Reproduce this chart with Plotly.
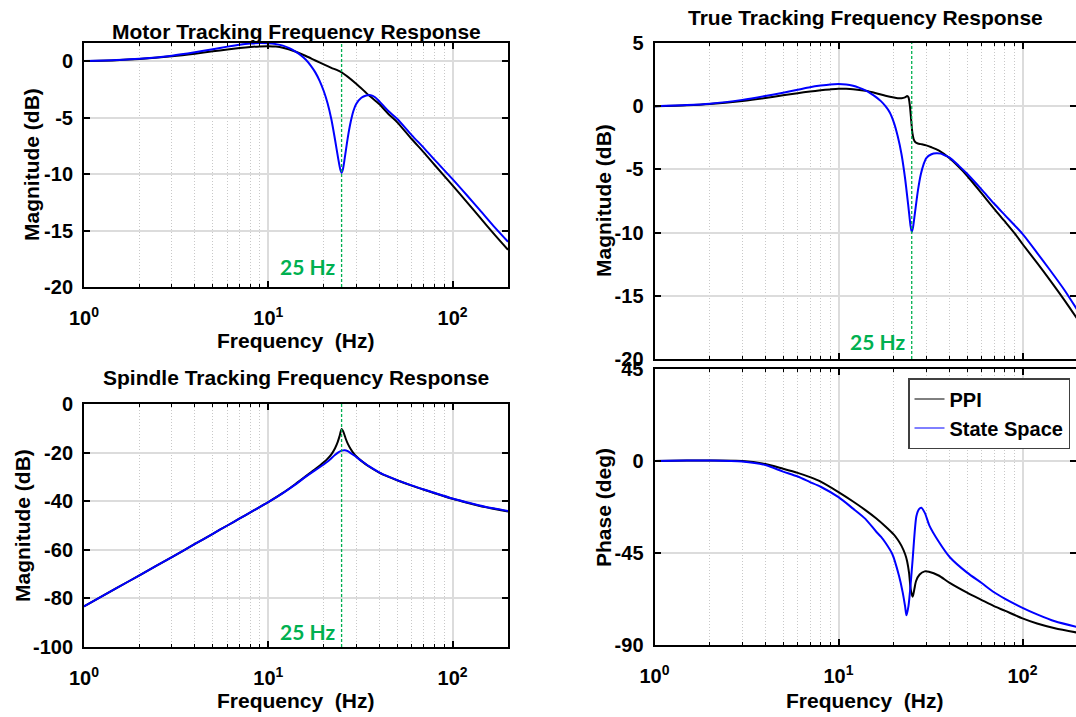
import math
import plotly.graph_objects as go

# ---------------- data ----------------
# Motor tracking magnitude (dB)
motor_f_ppi = [1, 1.5, 2, 3, 4, 5, 6, 7, 8, 9, 10, 11, 12, 14, 16, 18, 20, 22, 25, 30, 35, 40, 45, 50,
               60, 70, 80, 100, 120, 140, 170, 200]
motor_ppi = [0, 0.08, 0.18, 0.42, 0.65, 0.86, 1.03, 1.16, 1.25, 1.3, 1.32, 1.28, 1.18, 0.85, 0.45,
             0.05, -0.3, -0.6, -1.0, -2.0, -3.0, -3.8, -4.7, -5.4, -6.9, -8.1, -9.2, -11.0, -12.5,
             -13.8, -15.4, -16.7]
motor_f_ss = [1, 1.5, 2, 3, 4, 5, 6, 7, 8, 9, 10, 11, 12, 13, 14, 15, 16, 17, 18, 19, 20, 21, 22, 23,
              24, 24.6, 25, 25.4, 26, 27, 28, 29, 30, 32, 34, 36, 38, 40, 45, 50, 60, 70, 80, 100,
              120, 140, 170, 200]
motor_ss = [0, 0.09, 0.2, 0.48, 0.78, 1.05, 1.28, 1.45, 1.55, 1.6, 1.58, 1.5, 1.37, 1.15, 0.85,
            0.52, 0.12, -0.4, -1.0, -1.75, -2.65, -3.75, -5.15, -6.9, -8.7, -9.6, -9.9, -9.6, -8.6,
            -6.8, -5.4, -4.4, -3.8, -3.25, -3.05, -3.02, -3.2, -3.55, -4.45, -5.1, -6.55, -7.7,
            -8.75, -10.45, -11.9, -13.15, -14.75, -16.0]

# Spindle tracking magnitude (dB)
spindle_f_ppi = [1, 1.5, 2, 3, 4, 5, 6, 7, 8, 10, 12, 14, 16, 18, 20, 21, 22, 23, 23.8, 24.4, 25,
                 25.6, 26.3, 27, 28, 29, 30, 32, 35, 40, 45, 50, 60, 70, 80, 100, 120, 150, 200]
spindle_ppi = [-83.3, -75.8, -70.5, -63, -57.6, -53.4, -50, -47.1, -44.6, -40.4, -36.6, -33.0,
               -29.7, -26.8, -24.0, -22.5, -20.7, -18.3, -15.7, -13.1, -10.3, -11.6, -14.2, -16.3,
               -18.5, -20.2, -21.5, -23.4, -25.6, -28.2, -30.0, -31.4, -33.6, -35.3, -36.7, -39.0,
               -40.6, -42.4, -44.2]
spindle_f_ss = [1, 1.5, 2, 3, 4, 5, 6, 7, 8, 10, 12, 14, 16, 18, 20, 21, 22, 23, 24, 25, 26, 27, 28,
                29, 30, 32, 35, 40, 45, 50, 60, 70, 80, 100, 120, 150, 200]
spindle_ss = [-83.3, -75.8, -70.5, -63, -57.6, -53.4, -50, -47.1, -44.6, -40.4, -36.7, -33.2,
              -29.9, -27.2, -24.9, -23.7, -22.3, -21.0, -19.9, -19.2, -19.0, -19.4, -20.2, -21.0,
              -21.8, -23.4, -25.5, -28.1, -29.9, -31.3, -33.5, -35.2, -36.6, -38.9, -40.5, -42.3,
              -44.0]

# True tracking magnitude (dB)
true_f_ppi = [1, 1.5, 2, 3, 4, 5, 6, 7, 8, 9, 10, 11, 12, 14, 16, 18, 20, 21, 22, 23, 23.6, 24,
              24.4, 24.8, 25.2, 25.6, 26.2, 27, 28, 30, 32, 35, 40, 45, 50, 60, 70, 80, 90, 100,
              120, 140, 170, 200]
true_ppi = [0, 0.08, 0.18, 0.42, 0.65, 0.86, 1.03, 1.16, 1.26, 1.33, 1.38, 1.38, 1.35, 1.22, 1.03,
            0.83, 0.68, 0.63, 0.63, 0.7, 0.8, 0.7, 0.1, -1.0, -2.1, -2.6, -2.85, -2.95, -3.0, -3.1,
            -3.25, -3.5, -4.1, -4.8, -5.5, -6.9, -8.1, -9.1, -10.0, -10.9, -12.4, -13.7, -15.4,
            -16.9]
true_f_ss = [1, 1.5, 2, 3, 4, 5, 6, 7, 8, 9, 10, 11, 12, 13, 14, 15, 16, 17, 18, 19, 20, 21, 22,
             23, 24, 24.6, 25, 25.4, 26, 27, 28, 29, 30, 32, 34, 36, 38, 40, 45, 50, 60, 70, 80,
             100, 120, 140, 170, 200]
true_ss = [0, 0.09, 0.2, 0.5, 0.8, 1.07, 1.3, 1.5, 1.63, 1.72, 1.75, 1.72, 1.62, 1.45, 1.25, 1.0,
           0.72, 0.4, 0.0, -0.5, -1.3, -2.4, -3.8, -5.7, -8.0, -9.4, -9.95, -9.6, -8.5, -6.7,
           -5.4, -4.6, -4.1, -3.8, -3.72, -3.75, -3.9, -4.05, -4.7, -5.35, -6.6, -7.7, -8.6,
           -10.1, -11.6, -12.9, -14.6, -16.2]

# True tracking phase (deg)
phase_f_ppi = [1, 1.5, 2, 3, 4, 5, 6, 7, 8, 10, 12, 14, 16, 18, 20, 21, 22, 23, 23.6, 24.2, 24.7,
               25.3, 25.8, 26.4, 27.6, 29.4, 31, 35, 40, 50, 60, 70, 80, 100, 120, 150, 200]
phase_ppi = [0, 0.2, 0.2, 0, -1.5, -3.8, -5.8, -7.9, -10.1, -15.2, -19.8, -24, -28, -32, -36,
             -38.5, -41.5, -45.5, -49, -55, -63, -66.4, -63, -58.7, -55.5, -54, -54.2, -56, -59.5,
             -64.4, -68, -71, -73.2, -77, -79.5, -81.8, -84]
phase_f_ss = [1, 1.5, 2, 3, 4, 5, 6, 7, 8, 10, 12, 14, 16, 17, 18, 19.6, 21.3, 22.3, 23, 23.4, 24,
              24.7, 25.3, 26.5, 27.4, 28.2, 29.5, 31.2, 34.8, 40.4, 50, 60, 70, 80, 100, 120, 150,
              200]
phase_ss = [0, 0.2, 0.2, -0.3, -2, -5.2, -7.6, -10.3, -12.6, -17.7, -23.3, -28.3, -34.5, -37,
            -40, -45.5, -56, -64, -71, -75.5, -71, -59.5, -48, -27, -23.5, -22.9, -25.5, -31.6,
            -39, -47.2, -54.6, -59.7, -64.2, -67.3, -71.8, -75, -78.4, -81.3]

MARKER_FREQ = 25
MARKER_TEXT = "25 Hz"

x_tickvals = [1, 10, 100]
x_ticktext = ["10<sup>0</sup>", "10<sup>1</sup>", "10<sup>2</sup>"]
x_minorvals = [2, 3, 4, 5, 6, 7, 8, 9, 20, 30, 40, 50, 60, 70, 80, 90, 200]

motor_yticks = [0, -5, -10, -15, -20]
true_yticks = [5, 0, -5, -10, -15, -20]
spindle_yticks = [0, -20, -40, -60, -80, -100]
phase_yticks = [45, 0, -45, -90]

series_names = ["PPI", "State Space"]
series_colors = ["#000000", "#0000ff"]

# ---------------- layout helpers ----------------
W, H = 1076, 717
FONT = "Liberation Sans"
GREEN = "#00b050"


def fx(px):
    return px / W


def fy(py):
    return 1 - py / H


def ylabels(vals):
    return [str(v) for v in vals]


# panel boxes in pixels: (left, right, top, bottom)
boxes = {
    "tl": (84, 508, 43, 287),
    "bl": (84, 508, 404, 647),
    "tr": (654.5, 1076, 43, 359),
    "br": (654.5, 1076, 369, 645),
}

fig = go.Figure()

panels = [
    ("tl", "x", "y", motor_f_ppi, motor_ppi, motor_f_ss, motor_ss),
    ("bl", "x2", "y2", spindle_f_ppi, spindle_ppi, spindle_f_ss, spindle_ss),
    ("tr", "x3", "y3", true_f_ppi, true_ppi, true_f_ss, true_ss),
    ("br", "x4", "y4", phase_f_ppi, phase_ppi, phase_f_ss, phase_ss),
]

for key, xa, ya, f1, v1, f2, v2 in panels:
    for fr, vals, color in ((f1, v1, series_colors[0]), (f2, v2, series_colors[1])):
        fig.add_trace(go.Scatter(
            x=fr, y=vals, xaxis=xa, yaxis=ya, mode="lines",
            line=dict(color=color, width=2, shape="spline", smoothing=0.7),
            showlegend=False, hoverinfo="skip",
        ))

# legend entries (thin sample lines)
for name, color in zip(series_names, series_colors):
    fig.add_trace(go.Scatter(
        x=[None], y=[None], xaxis="x4", yaxis="y4", mode="lines", name=name,
        line=dict(color=color, width=1), showlegend=True,
    ))

tick_font = dict(family=FONT, size=20, color="black", weight="bold")


def x_axis(key, right_log):
    l, r, t, b = boxes[key]
    return dict(
        domain=[fx(l), fx(r)], type="log", range=[0, right_log], automargin=False,
        tickvals=x_tickvals, ticktext=x_ticktext, tickfont=tick_font,
        ticks="inside", ticklen=6, tickwidth=1.5, tickcolor="black",
        showline=True, linewidth=2, linecolor="black", mirror="allticks",
        showgrid=True, gridcolor="#dcdcdc", gridwidth=1.5, zeroline=False,
        ticklabelstandoff=12,
        minor=dict(tickvals=x_minorvals, ticks="inside", ticklen=3, tickwidth=1,
                   tickcolor="black", showgrid=True, gridcolor="#c8c8c8",
                   griddash="1px,2px", gridwidth=1),
        fixedrange=True,
    )


def y_axis(key, xa, rng, ticks):
    l, r, t, b = boxes[key]
    return dict(
        domain=[fy(b), fy(t)], anchor=xa, range=rng, automargin=False,
        tickvals=ticks, ticktext=ylabels(ticks), tickfont=tick_font,
        ticks="inside", ticklen=6, tickwidth=1.5, tickcolor="black",
        showline=True, linewidth=2, linecolor="black", mirror="allticks",
        showgrid=True, gridcolor="#dcdcdc", gridwidth=1.5, zeroline=False,
        ticklabelstandoff=5, fixedrange=True,
    )


LEFT_MAX = math.log10(200)
RIGHT_MAX = (1076 - 654.5) / 184.0

fig.update_layout(
    template="none",
    width=W, height=H, margin=dict(l=0, r=0, t=0, b=0, autoexpand=False),
    paper_bgcolor="white", plot_bgcolor="white",
    xaxis=x_axis("tl", LEFT_MAX) | dict(anchor="y"),
    yaxis=y_axis("tl", "x", [-20, 1.6], motor_yticks),
    xaxis2=x_axis("bl", LEFT_MAX) | dict(anchor="y2"),
    yaxis2=y_axis("bl", "x2", [-100, 0], spindle_yticks),
    xaxis3=x_axis("tr", RIGHT_MAX) | dict(anchor="y3", showticklabels=False),
    yaxis3=y_axis("tr", "x3", [-20, 5], true_yticks),
    xaxis4=x_axis("br", RIGHT_MAX) | dict(anchor="y4"),
    yaxis4=y_axis("br", "x4", [-90, 45], phase_yticks),
    legend=dict(
        x=fx(908), y=fy(378), xanchor="left", yanchor="top",
        bgcolor="white", bordercolor="#404040", borderwidth=1.5,
        font=dict(family=FONT, size=20, color="black", weight="bold"),
        tracegroupgap=0, itemwidth=30,
    ),
    showlegend=True,
)

# 25 Hz markers on the three magnitude panels
for xa, ya in (("x", "y"), ("x2", "y2"), ("x3", "y3")):
    fig.add_shape(type="line", xref=xa, yref=f"{ya} domain", x0=MARKER_FREQ, x1=MARKER_FREQ,
                  y0=0, y1=1, line=dict(color=GREEN, width=1.3, dash="3px,2px"), layer="above")

label_pos = {"x": 0.082, "x2": 0.063, "x3": 0.055}
for xa, ya in (("x", "y"), ("x2", "y2"), ("x3", "y3")):
    fig.add_annotation(
        xref=xa, yref=f"{ya} domain", x=math.log10(MARKER_FREQ), y=label_pos[xa],
        text=MARKER_TEXT, showarrow=False, xanchor="right", yanchor="middle", xshift=-5,
        font=dict(family="Lato", size=21, color=GREEN, weight="bold"),
    )

title_font = dict(family=FONT, size=21, color="black", weight="bold")
texts = [
    ("Motor Tracking Frequency Response", 296, 31, 0),
    ("Spindle Tracking Frequency Response", 296, 377, 0),
    ("True Tracking Frequency Response", 865, 17, 0),
    ("Frequency\u00a0 (Hz)", 296, 340, 0),
    ("Frequency\u00a0 (Hz)", 296, 700, 0),
    ("Frequency\u00a0 (Hz)", 865, 700, 0),
    ("Magnitude (dB)", 31, 165, -90),
    ("Magnitude (dB)", 22, 526, -90),
    ("Magnitude (dB)", 603, 200, -90),
    ("Phase (deg)", 603, 507, -90),
]
for txt, px, py, ang in texts:
    fig.add_annotation(
        xref="paper", yref="paper", x=fx(px), y=fy(py), text=txt, showarrow=False,
        xanchor="center", yanchor="middle", textangle=ang, font=title_font,
    )

fig.write_html("out.html")
